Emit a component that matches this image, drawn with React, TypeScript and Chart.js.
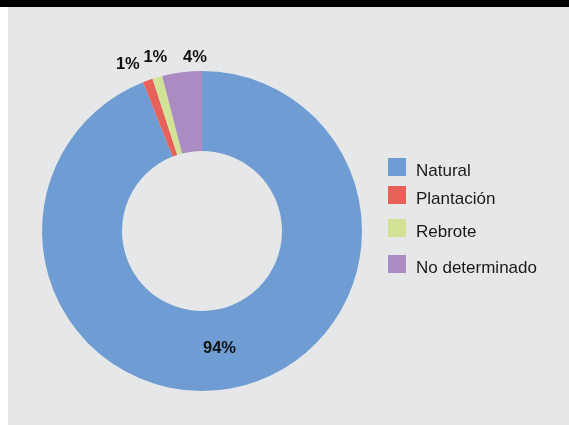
import React, { useEffect, useRef } from "react";
import { Chart, registerables } from "chart.js";

Chart.register(...registerables);

const categories = ["Natural", "Plantación", "Rebrote", "No determinado"];
const shares = [94, 1, 1, 4];
const sliceColors = ["#6f9dd3", "#e8605a", "#d2e397", "#aa8cc2"];

// label nudges (px) relative to anchor: index 0 = inside (mid ring), others = outer edge
const labelNudges = [
  [-5, 0],
  [-20, -16],
  [-2, -20],
  [13, -15],
];
// legend layout (canvas px)
const legendX = 380;
const legendTops = [151, 179, 212, 248];
const legendBox = 18;
const legendTextX = 408;

const FONT = '"Liberation Sans", Arial, Helvetica, sans-serif';

const labelPlugin = {
  id: "sliceLabels",
  afterDatasetsDraw(chart: any) {
    const ctx = chart.ctx;
    const meta = chart.getDatasetMeta(0);
    const data = chart.data.datasets[0].data as number[];
    ctx.save();
    ctx.font = `bold 16.5px ${FONT}`;
    ctx.fillStyle = "#111111";
    ctx.textAlign = "center";
    ctx.textBaseline = "middle";
    meta.data.forEach((arc: any, i: number) => {
      const p = arc.getProps(["x", "y", "startAngle", "endAngle", "innerRadius", "outerRadius"], true);
      const mid = (p.startAngle + p.endAngle) / 2;
      const r = i === 0 ? (p.innerRadius + p.outerRadius) / 2 : p.outerRadius;
      const x = p.x + Math.cos(mid) * r + labelNudges[i][0];
      const y = p.y + Math.sin(mid) * r + labelNudges[i][1];
      ctx.fillText(`${data[i]}%`, x, y);
    });
    ctx.restore();
  },
};

const legendPlugin = {
  id: "customLegend",
  afterDraw(chart: any) {
    const ctx = chart.ctx;
    const labels = chart.data.labels as string[];
    const colors = chart.data.datasets[0].backgroundColor as string[];
    ctx.save();
    ctx.font = `17px ${FONT}`;
    ctx.textAlign = "left";
    ctx.textBaseline = "alphabetic";
    labels.forEach((lab, i) => {
      const top = legendTops[i];
      ctx.fillStyle = colors[i];
      ctx.fillRect(legendX, top, legendBox, legendBox);
      ctx.fillStyle = "#1a1a1a";
      ctx.fillText(lab, legendTextX, top + 17.7);
    });
    ctx.restore();
  },
};

export default function App() {
  const ref = useRef<HTMLCanvasElement>(null);
  useEffect(() => {
    if (!ref.current) return;
    const chart = new Chart(ref.current, {
      type: "doughnut",
      data: {
        labels: categories,
        datasets: [
          {
            data: shares,
            backgroundColor: sliceColors,
            borderWidth: 0,
            hoverOffset: 0,
            offset: 0,
          },
        ],
      },
      options: {
        responsive: false,
        animation: false,
        cutout: "50%",
        layout: { padding: { left: 34, right: 207, top: 64, bottom: 34 } },
        plugins: {
          legend: { display: false },
          tooltip: { enabled: false },
        },
        events: [],
      },
      plugins: [labelPlugin, legendPlugin],
    });
    return () => chart.destroy();
  }, []);
  return (
    <div style={{ position: "absolute", left: 0, top: 0, width: 569, height: 425, background: "#ffffff", overflow: "hidden" }}>
      <div style={{ position: "absolute", left: 0, top: 0, width: 569, height: 7, background: "#000000" }} />
      <div style={{ position: "absolute", left: 8, top: 7, width: 561, height: 418, background: "#e6e7e8" }}>
        <canvas ref={ref} width={561} height={418} style={{ display: "block", width: 561, height: 418 }} />
      </div>
    </div>
  );
}
